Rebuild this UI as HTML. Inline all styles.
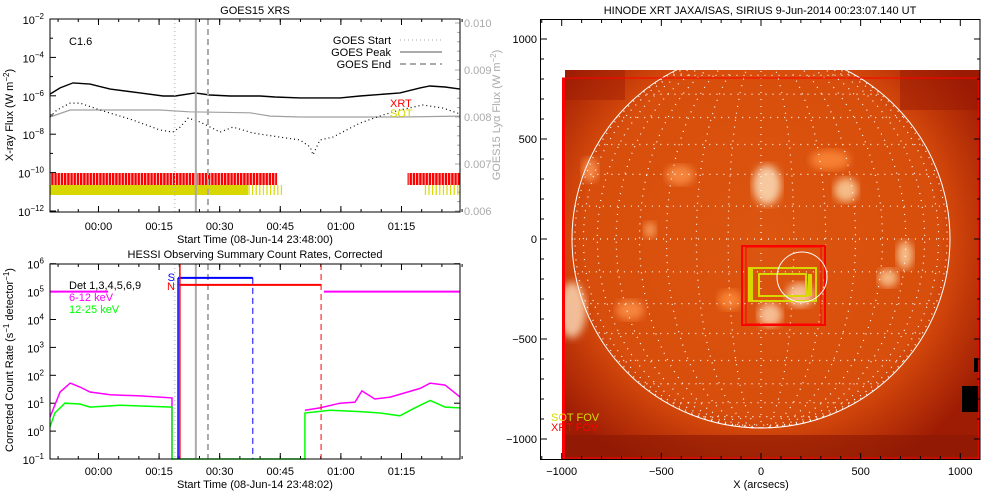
<!DOCTYPE html>
<html><head><meta charset="utf-8">
<style>
html,body{margin:0;padding:0;background:#fff;}
svg{display:block;font-family:"Liberation Sans",sans-serif;}
text{font-size:11px;}
</style></head>
<body>
<svg id="s" width="1000" height="500" viewBox="0 0 1000 500" xmlns="http://www.w3.org/2000/svg">
<defs>
<pattern id="redStripe" width="3.2" height="20" patternUnits="userSpaceOnUse"><rect width="2.4" height="20" fill="#ff0000"/></pattern>
<pattern id="yelStripe" width="3.6" height="20" patternUnits="userSpaceOnUse"><rect width="1.2" height="20" fill="#d8d800"/></pattern>
<clipPath id="imgClip"><rect x="565" y="70" width="415" height="389"/></clipPath>
<clipPath id="diskClip"><circle cx="761" cy="239" r="189"/></clipPath>
<radialGradient id="diskGrad" cx="761" cy="239" r="260" gradientUnits="userSpaceOnUse">
<stop offset="0" stop-color="#dc5610"/><stop offset="0.68" stop-color="#d84e0c"/><stop offset="0.76" stop-color="#cc420a"/><stop offset="1" stop-color="#9e1c04"/></radialGradient>
<filter id="blur4"><feGaussianBlur stdDeviation="4"/></filter>
</defs>
<g id="topPanel"></g>
<g id="botPanel"></g>
<g id="imgPanel"></g>
</svg>
<script>
// ---- GOES data (minutes since 23:48:00, log10 flux) ----
const goesLongT = [0,2.5,5.7,9.9,14.9,22.3,28,31,35.9,39.6,44.6,52,55.7,61.9,71.8,76.7,86.6,91.6,94,97.8,101.5];
const goesLongV = [-5.91,-5.59,-5.33,-5.39,-5.65,-5.85,-6.01,-6.01,-5.85,-5.96,-6.01,-6.01,-6.06,-6.11,-6.11,-6.01,-5.85,-5.59,-5.49,-5.54,-5.65];
const goesShortT = [0,1.7,5,7.4,12.4,20.5,27.2,30.4,32.2,34.2,37.1,42.1,45.3,50.2,56.9,61.9,64.4,65.1,66.8,70,76.7,82.4,86.6,92.3,97.3,101.5];
const goesShortV = [-7.10,-6.74,-6.38,-6.38,-6.74,-7.26,-7.78,-7.89,-7.63,-7.16,-7.36,-7.89,-7.63,-7.94,-8.15,-8.30,-8.67,-9.08,-8.30,-8.15,-7.42,-7.00,-6.74,-6.48,-6.64,-6.95];
const lyaT = [0,5,12.4,27.2,34.4,49.5,54.5,61.9,71.8,86.6,101.5];
const lyaV = [0.00800,0.00815,0.00815,0.00815,0.00811,0.00809,0.00802,0.00800,0.00800,0.00800,0.00802];
const goesEvents = [30.9,36.1,39.1];
const xrtRanges = [[0,56.2],[88.5,101.5]];
const sotFilled = [[0,49]];
const sotTicks = [[49,57.5],[92.5,101.5]];
const timeTicks = ['00:00','00:15','00:30','00:45','01:00','01:15'];
const timeTickMin = [12,27,42,57,72,87];
const leftLogTicks = [-2,-4,-6,-8,-10,-12];
const rightTicks = [0.010,0.009,0.008,0.007,0.006];
// ---- HESSI data ----
const magT1 = [0,2.5,5,7.4,9.9,14.9,22.3,30.2];
const magV1 = [0.5,1.4,1.72,1.58,1.4,1.3,1.26,1.19];
const magT2 = [63.1,66.8,71.8,75.5,77.2,80.4,84.2,91.6,94.1,97.8,101.5];
const magV2 = [0.75,0.83,1.0,1.04,1.44,1.15,1.22,1.53,1.72,1.65,1.22];
const grnT1 = [0,1.2,3.7,7.4,9.9,17.3,30.2];
const grnV1 = [0.15,0.65,1.0,0.97,0.86,0.93,0.86];
const grnT2 = [63.1,69.3,76.7,81.7,86.6,90.3,94.1,97.8,101.5];
const grnV2 = [0.65,0.75,0.7,0.65,0.55,0.83,1.1,0.86,0.83];
const attenRanges = [[0,14.4],[67.8,101.5]];
const attenLevel = 5;
const saaRange = [31.7,50.2]; const saaLevel = 5.49;
const nightRange = [31.9,67.1]; const nightLevel = 5.24;
const hessiLogTicks = [6,5,4,3,2,1,0,-1];
const arcTicks = [-1000,-500,0,500,1000];

const NS='http://www.w3.org/2000/svg';
function mk(parent,tag,attrs,txt){const el=document.createElementNS(NS,tag);for(const k in attrs)el.setAttribute(k,attrs[k]);if(txt!==undefined)el.textContent=txt;parent.appendChild(el);return el;}
const xT = m => 50 + m*4.04;
const yTop = v => 19 + (-2 - v)*19.2;
const yR = v => 211 - (v-0.006)*47000;
const yB = v => 459 - (v+1)*27.9;
function pts(T,V,fx,fy){return T.map((t,i)=>fx(t).toFixed(1)+','+fy(V[i]).toFixed(1)).join(' ');}
function supText(g,x,y,base,sup,anchor,fill){
  const t=mk(g,'text',{x:x,y:y,'text-anchor':anchor||'end',fill:fill||'#000'});
  mk(t,'tspan',{},base);
  mk(t,'tspan',{dy:-5,'font-size':'8'},sup);
  return t;
}
let e;
// ===== TOP PANEL =====
const topG=document.getElementById('topPanel');
e=mk(topG,'text',{x:255,y:14,'text-anchor':'middle','font-size':'12'},'GOES15 XRS');


rightTicks.forEach(v=>{const y=yR(v);
  mk(topG,'line',{x1:460,x2:455,y1:y,y2:y,stroke:'#aaa'});
  e=mk(topG,'text',{x:464,y:y+4,fill:'#aaa'},v.toFixed(3));
  
  
});
for(let v=0.0062;v<0.0100;v+=0.0002){const y=yR(v);mk(topG,'line',{x1:460,x2:457,y1:y,y2:y,stroke:'#aaa'});}
leftLogTicks.forEach(v=>{const y=yTop(v);
  mk(topG,'line',{x1:50,x2:56,y1:y,y2:y,stroke:'#000'});
  e=supText(topG,44,y+5,'10',String(v).replace('-','\u2212'),'end');
  
  
});
for(let v=-3;v>=-11;v-=2){const y=yTop(v);mk(topG,'line',{x1:50,x2:53,y1:y,y2:y,stroke:'#000'});}
timeTickMin.forEach((m,i)=>{const x=xT(m);
  mk(topG,'line',{x1:x,x2:x,y1:212,y2:206,stroke:'#000'});mk(topG,'line',{x1:x,x2:x,y1:19,y2:25,stroke:'#000'});
  e=mk(topG,'text',{x:x,y:230,'text-anchor':'middle'},timeTicks[i]);
  
  
});
for(let m=2;m<=102;m+=5){const x=xT(m);mk(topG,'line',{x1:x,x2:x,y1:212,y2:209,stroke:'#000'});mk(topG,'line',{x1:x,x2:x,y1:19,y2:22,stroke:'#000'});}
e=mk(topG,'text',{x:255,y:243,'text-anchor':'middle'},'Start Time (08-Jun-14 23:48:00)');


e=mk(topG,'text',{x:0,y:0,'text-anchor':'middle',transform:'translate(13,115) rotate(-90)'});
mk(e,'tspan',{},'X-ray Flux (W m');mk(e,'tspan',{dy:-4,'font-size':'8'},'\u22122');mk(e,'tspan',{dy:4},')');


e=mk(topG,'text',{x:0,y:0,'text-anchor':'middle',fill:'#aaa',transform:'translate(500,115) rotate(-90)'});
mk(e,'tspan',{},'GOES15 Lyα Flux (W m');mk(e,'tspan',{dy:-4,'font-size':'8'},'\u22122');mk(e,'tspan',{dy:4},')');


xrtRanges.forEach(r=>{e=mk(topG,'rect',{x:xT(r[0]),y:173,width:xT(r[1])-xT(r[0]),height:12,fill:'url(#redStripe)'});
  
  });
sotFilled.forEach(r=>{e=mk(topG,'rect',{x:xT(r[0]),y:185,width:xT(r[1])-xT(r[0]),height:10,fill:'#d8d800'});
  
  });
sotTicks.forEach(r=>{e=mk(topG,'rect',{x:xT(r[0]),y:185,width:xT(r[1])-xT(r[0]),height:10,fill:'url(#yelStripe)'});
  
  });
e=mk(topG,'polyline',{points:pts(lyaT,lyaV,xT,yR),fill:'none',stroke:'#a0a0a0','stroke-width':1.2});


e=mk(topG,'polyline',{points:pts(goesLongT,goesLongV,xT,yTop),fill:'none',stroke:'#000','stroke-width':1.4});


e=mk(topG,'polyline',{points:pts(goesShortT,goesShortV,xT,yTop),fill:'none',stroke:'#000','stroke-width':1.2,'stroke-dasharray':'1 3'});


const evStyles=[{'stroke-dasharray':'1 3','stroke-width':1},{'stroke-width':2},{'stroke-dasharray':'6 4','stroke-width':2}];
const evNames=['goes-start-line','goes-peak-line','goes-end-line'];
goesEvents.forEach((m,i)=>{const a=Object.assign({x1:xT(m),x2:xT(m),y1:19,y2:212,stroke:'#aaa'},evStyles[i]);e=mk(topG,'line',a);
  
  });
mk(topG,'rect',{x:50,y:19,width:410,height:193,fill:'none',stroke:'#000'});
e=mk(topG,'text',{x:69,y:45},'C1.6');


['GOES Start','GOES Peak','GOES End'].forEach((t,i)=>{const y=44+i*12;
  e=mk(topG,'text',{x:391,y:y,'text-anchor':'end'},t);
  
  
  mk(topG,'line',Object.assign({x1:400,x2:442,y1:y-4,y2:y-4,stroke:'#aaa'},evStyles[i]));});
e=mk(topG,'text',{x:390,y:107,fill:'#ff0000'},'XRT');


e=mk(topG,'text',{x:390,y:117,fill:'#d8d800'},'SOT');



// ===== BOTTOM PANEL =====
const botG=document.getElementById('botPanel');
e=mk(botG,'text',{x:255,y:258,'text-anchor':'middle','font-size':'12'},'HESSI Observing Summary Count Rates, Corrected');


hessiLogTicks.forEach(v=>{const y=yB(v);
  mk(botG,'line',{x1:50,x2:56,y1:y,y2:y,stroke:'#000'});mk(botG,'line',{x1:460,x2:454,y1:y,y2:y,stroke:'#000'});
  e=supText(botG,44,y+5,'10',String(v).replace('-','\u2212'),'end');
  
  
});
timeTickMin.forEach((m,i)=>{const x=xT(m);
  mk(botG,'line',{x1:x,x2:x,y1:459,y2:453,stroke:'#000'});mk(botG,'line',{x1:x,x2:x,y1:264,y2:270,stroke:'#000'});
  e=mk(botG,'text',{x:x,y:475,'text-anchor':'middle'},timeTicks[i]);
  
  
});
for(let m=2;m<=102;m+=5){const x=xT(m);mk(botG,'line',{x1:x,x2:x,y1:459,y2:456,stroke:'#000'});mk(botG,'line',{x1:x,x2:x,y1:264,y2:267,stroke:'#000'});}
e=mk(botG,'text',{x:255,y:488,'text-anchor':'middle'},'Start Time (08-Jun-14 23:48:02)');


e=mk(botG,'text',{x:0,y:0,'text-anchor':'middle',transform:'translate(13,360) rotate(-90)'});
mk(e,'tspan',{},'Corrected Count Rate (s');mk(e,'tspan',{dy:-4,'font-size':'8'},'\u22121');mk(e,'tspan',{dy:4},' detector');mk(e,'tspan',{dy:-4,'font-size':'8'},'\u22121');mk(e,'tspan',{dy:4},')');


attenRanges.forEach(r=>{e=mk(botG,'line',{x1:xT(r[0]),x2:xT(r[1]),y1:yB(attenLevel),y2:yB(attenLevel),stroke:'#ff00ff','stroke-width':2});
  
  });
const m1=pts(magT1,magV1,xT,yB)+' '+xT(magT1[magT1.length-1])+','+yB(-1);
e=mk(botG,'polyline',{points:m1,fill:'none',stroke:'#ff00ff','stroke-width':1.5});


e=mk(botG,'polyline',{points:pts(magT2,magV2,xT,yB),fill:'none',stroke:'#ff00ff','stroke-width':1.5});


const g1=pts(grnT1,grnV1,xT,yB)+' '+xT(grnT1[grnT1.length-1])+','+yB(-1)+' '+xT(grnT2[0])+','+yB(-1)+' '+pts(grnT2,grnV2,xT,yB);
e=mk(botG,'polyline',{points:g1,fill:'none',stroke:'#00ff00','stroke-width':1.5});


goesEvents.forEach((m,i)=>{mk(botG,'line',Object.assign({x1:xT(m),x2:xT(m),y1:264,y2:459,stroke:'#aaa'},evStyles[i]));});
e=mk(botG,'line',{x1:xT(saaRange[0]),x2:xT(saaRange[0]),y1:yB(saaLevel),y2:459,stroke:'#0000ff','stroke-width':1.5});


e=mk(botG,'line',{x1:xT(saaRange[0]),x2:xT(saaRange[1]),y1:yB(saaLevel),y2:yB(saaLevel),stroke:'#0000ff','stroke-width':2});


e=mk(botG,'line',{x1:xT(saaRange[1]),x2:xT(saaRange[1]),y1:yB(saaLevel),y2:459,stroke:'#0000ff','stroke-dasharray':'6 4'});


e=mk(botG,'line',{x1:xT(nightRange[0])+1,x2:xT(nightRange[0])+1,y1:264,y2:459,stroke:'#ff0000','stroke-width':1.5});


e=mk(botG,'line',{x1:xT(nightRange[0]),x2:xT(nightRange[1]),y1:yB(nightLevel),y2:yB(nightLevel),stroke:'#ff0000','stroke-width':2});


e=mk(botG,'line',{x1:xT(nightRange[1]),x2:xT(nightRange[1]),y1:264,y2:459,stroke:'#ff0000','stroke-dasharray':'6 4'});


mk(botG,'text',{x:175,y:281,'text-anchor':'end',fill:'#0000ff','font-size':'9'},'S');
mk(botG,'text',{x:175,y:290,'text-anchor':'end',fill:'#ff0000','font-size':'10'},'N');
mk(botG,'rect',{x:50,y:264,width:410,height:195,fill:'none',stroke:'#000'});
e=mk(botG,'text',{x:69,y:289},'Det 1,3,4,5,6,9');


e=mk(botG,'text',{x:69,y:301,fill:'#ff00ff'},'6-12 keV');


e=mk(botG,'text',{x:69,y:313,fill:'#00ff00'},'12-25 keV');



// ===== IMAGE PANEL =====
const imgG=document.getElementById('imgPanel');
const ax = a => 761 + a*0.1993;
const ay = a => 239 - a*0.2;
e=mk(imgG,'text',{x:760,y:14,'text-anchor':'middle','font-size':'12'},'HINODE XRT JAXA/ISAS, SIRIUS  9-Jun-2014 00:23:07.140 UT');


const ig=mk(imgG,'g',{'clip-path':'url(#imgClip)'});
mk(ig,'rect',{x:565,y:70,width:415,height:389,fill:'url(#diskGrad)'});
mk(ig,'rect',{x:565,y:435,width:415,height:24,fill:'#8a1804',opacity:0.6});
mk(ig,'rect',{x:900,y:70,width:80,height:40,fill:'#981804',opacity:0.5});
mk(ig,'rect',{x:565,y:70,width:60,height:30,fill:'#981804',opacity:0.4});
mk(ig,'rect',{x:962,y:386,width:18,height:26,fill:'#000'});
mk(ig,'rect',{x:974,y:358,width:6,height:14,fill:'#000'});
const bright=[[767,185,14,20,'#fff0d0'],[846,190,12,12,'#ffe0b0'],[572,310,14,28,'#ffe8c8'],[905,255,8,14,'#ffe0b0'],[888,278,10,9,'#ffd8a8'],[800,295,14,12,'#ffe0c0'],[770,315,12,12,'#ffe0c0'],[630,310,14,10,'#ff9850'],[650,230,6,8,'#ffb070'],[680,175,14,10,'#ff9850'],[730,300,12,10,'#ff9040'],[830,160,20,10,'#ff9040'],[590,170,8,12,'#ffa060']];
bright.forEach(b=>{mk(ig,'ellipse',{cx:b[0],cy:b[1],rx:b[2],ry:b[3],fill:b[4],filter:'url(#blur4)',opacity:0.75});});
const gg=mk(ig,'g',{'clip-path':'url(#diskClip)',stroke:'#fff','stroke-width':1.2,'stroke-dasharray':'1 6',fill:'none'});
for(let lat=-80;lat<=80;lat+=10){const y=239-189*Math.sin(lat*Math.PI/180);const hw=189*Math.cos(lat*Math.PI/180);mk(gg,'line',{x1:761-hw,x2:761+hw,y1:y,y2:y});}
for(let lon=-80;lon<=80;lon+=10){const rx=Math.abs(189*Math.sin(lon*Math.PI/180));const sweep=lon>0?1:0;
  if(lon===0)mk(gg,'line',{x1:761,x2:761,y1:50,y2:428});else mk(gg,'path',{d:`M761,50 A${rx},189 0 0 ${sweep} 761,428`});}
e=mk(ig,'circle',{cx:761,cy:239,r:189,fill:'none',stroke:'#fff','stroke-width':1});


e=mk(imgG,'rect',{x:742,y:246,width:83,height:79,fill:'none',stroke:'#ff0000','stroke-width':2});


mk(imgG,'rect',{x:746,y:247,width:75,height:77,fill:'none',stroke:'#ff0000','stroke-width':1});
e=mk(imgG,'rect',{x:749,y:268,width:67,height:33,fill:'none',stroke:'#d8d800','stroke-width':2});


mk(imgG,'rect',{x:759,y:274,width:47,height:22,fill:'none',stroke:'#d8d800','stroke-width':2});
mk(imgG,'line',{x1:751,x2:751,y1:268,y2:301,stroke:'#d8d800','stroke-width':4});
mk(imgG,'line',{x1:810,x2:810,y1:274,y2:296,stroke:'#d8d800','stroke-width':4});
mk(imgG,'circle',{cx:802,cy:277,r:25,fill:'none',stroke:'#fff','stroke-width':1});
mk(imgG,'rect',{x:562,y:78,width:3,height:381,fill:'#ff0000'});
mk(imgG,'line',{x1:562,x2:980,y1:78,y2:78,stroke:'#ff0000','stroke-width':1});
mk(imgG,'line',{x1:979,x2:979,y1:78,y2:459,stroke:'#ff0000','stroke-width':1.5});
mk(imgG,'line',{x1:562,x2:980,y1:458,y2:458,stroke:'#ff0000','stroke-width':1});
e=mk(imgG,'text',{x:551,y:421,fill:'#d8d800','font-size':'10'},'SOT FOV');


e=mk(imgG,'text',{x:551,y:431,fill:'#ff0000','font-size':'10'},'XRT FOV');


mk(imgG,'rect',{x:540.5,y:19.5,width:439.5,height:440,fill:'none',stroke:'#000'});
for(let a=-1100;a<=1100;a+=100){const x=ax(a),y=ay(a);const L=(a%500===0)?6:3;
  if(x>540&&x<980){mk(imgG,'line',{x1:x,x2:x,y1:459,y2:459-L,stroke:'#000'});mk(imgG,'line',{x1:x,x2:x,y1:20,y2:20+L,stroke:'#000'});}
  if(y>19&&y<459){mk(imgG,'line',{x1:541,x2:541+L,y1:y,y2:y,stroke:'#000'});mk(imgG,'line',{x1:980,x2:980-L,y1:y,y2:y,stroke:'#000'});}}
arcTicks.forEach(a=>{
  e=mk(imgG,'text',{x:ax(a),y:475,'text-anchor':'middle'},String(a).replace('-','\u2212'));
  
  
  e=mk(imgG,'text',{x:537,y:ay(a)+4,'text-anchor':'end'},String(a).replace('-','\u2212'));
  
  
});
e=mk(imgG,'text',{x:761,y:488,'text-anchor':'middle'},'X (arcsecs)');


</script>
</body></html>
